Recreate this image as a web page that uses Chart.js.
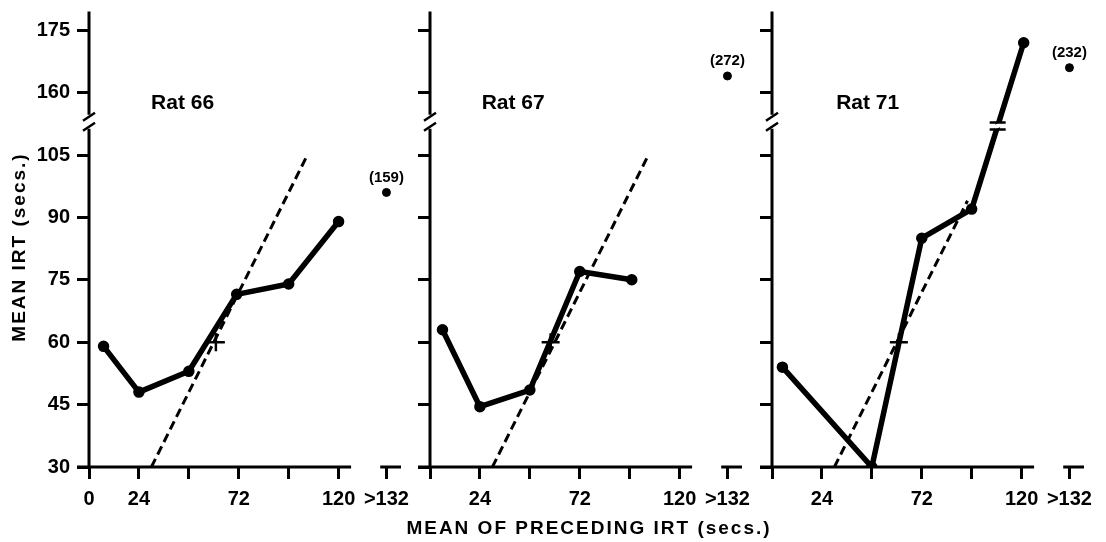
<!DOCTYPE html>
<html lang="en">
<head>
<meta charset="UTF-8">
<title>Mean IRT vs mean of preceding IRT</title>
<script src="https://cdn.jsdelivr.net/npm/chart.js@4.4.0/dist/chart.umd.min.js"></script>
<style>
  body { margin: 0; background: #fff; width: 1106px; height: 542px; position: relative; overflow: hidden; }
  canvas { position: absolute; top: 0; }
  #xtitle { position: absolute; top: 518px; left: 589px; transform: translateX(-50%);
            font: bold 19px "Liberation Sans", Arial, sans-serif; letter-spacing: 2px;
            line-height: 19px; white-space: nowrap; color: #000; }
</style>
</head>
<body>
<canvas id="c66" width="420" height="542" style="left:0px"></canvas>
<canvas id="c67" width="420" height="542" style="left:341px"></canvas>
<canvas id="c71" width="420" height="542" style="left:683px"></canvas>
<div id="xtitle">MEAN OF PRECEDING IRT (secs.)</div>
<script>
// values
const rats = ['Rat 66', 'Rat 67', 'Rat 71'];
const prevIRT66 = [7, 24, 48, 71, 96, 120];
const meanIRT66 = [59, 48, 53, 71.5, 74, 89];
const prevIRT67 = [6, 24, 48, 72, 97];
const meanIRT67 = [63, 44.5, 48.5, 77, 75];
const prevIRT71 = [5, 48, 72, 96, 121];
const meanIRT71 = [54, 30, 85, 92, 172];
// ">132" bin: where the dot sits and the value printed over it
const overX = 143;
const overPlotY = [96, 164, 166];
const overLabel = ['(159)', '(272)', '(232)'];
// the + marks
const crossX = [61, 58, 61];
const crossY = [60, 60, 60];
// dashed y = x lines
const diagFrom = [30, 30, 30];
const diagTo = [105, 105, 94];

const xTickVals = [0, 24, 48, 72, 96, 120, 143];
const xTickText = ['0', '24', '', '72', '', '120', '>132'];
const yTickVals = [30, 45, 60, 75, 90, 105, 160, 175];

// broken y axis: everything above the break is shifted down by 40
const GAP = 40;
const axisY = v => v >= 150 ? v - GAP : v;
const realY = a => a > 113 ? a + GAP : a;

Chart.defaults.font.family = '"Liberation Sans", Arial, sans-serif';
Chart.defaults.font.weight = 'bold';
Chart.defaults.color = '#000';

const decor = {
  id: 'decor',
  afterDraw(chart) {
    const { ctx, chartArea: a, scales: { x, y } } = chart;
    const p = chart.options.plugins.decor;
    ctx.save();
    ctx.strokeStyle = '#000';
    ctx.fillStyle = '#000';

    // y axis with its break
    const yb = y.getPixelForValue(113);
    ctx.lineWidth = 3;
    ctx.beginPath();
    ctx.moveTo(a.left, a.top); ctx.lineTo(a.left, yb - 7);
    ctx.moveTo(a.left, yb + 7); ctx.lineTo(a.left, a.bottom);
    ctx.stroke();
    ctx.lineWidth = 2.5;
    ctx.beginPath();
    ctx.moveTo(a.left - 6, yb - 1); ctx.lineTo(a.left + 6, yb - 9);
    ctx.moveTo(a.left - 6, yb + 9); ctx.lineTo(a.left + 6, yb + 1);
    ctx.stroke();

    // x axis and the separate >132 piece
    ctx.lineWidth = 3;
    ctx.beginPath();
    ctx.moveTo(a.left - 12, a.bottom); ctx.lineTo(x.getPixelForValue(126), a.bottom);
    ctx.moveTo(x.getPixelForValue(140), a.bottom); ctx.lineTo(x.getPixelForValue(150), a.bottom);
    ctx.stroke();

    // break marks on the line itself
    if (p.lineBreak) {
      const pts = chart.getDatasetMeta(0).data;
      const p1 = pts[pts.length - 2], p2 = pts[pts.length - 1];
      const by = y.getPixelForValue(p.lineBreak);
      const bx = p1.x + (p2.x - p1.x) * (by - p1.y) / (p2.y - p1.y);
      ctx.strokeStyle = '#fff'; ctx.lineWidth = 8;
      ctx.beginPath(); ctx.moveTo(bx - 1, by - 2); ctx.lineTo(bx + 1, by + 2); ctx.stroke();
      ctx.strokeStyle = '#000'; ctx.lineWidth = 2.5;
      ctx.beginPath();
      ctx.moveTo(bx - 8, by - 3.5); ctx.lineTo(bx + 8, by - 3.5);
      ctx.moveTo(bx - 8, by + 3.5); ctx.lineTo(bx + 8, by + 3.5);
      ctx.stroke();
    }

    // panel name
    ctx.font = 'bold 21px "Liberation Sans", Arial, sans-serif';
    ctx.textAlign = 'center'; ctx.textBaseline = 'middle';
    ctx.fillText(p.title, x.getPixelForValue(p.titleX), y.getPixelForValue(117.4));

    // value printed over the >132 dot
    const od = chart.getDatasetMeta(3).data[0];
    ctx.font = 'bold 15px "Liberation Sans", Arial, sans-serif';
    ctx.fillText(p.overText, od.x, od.y - 15);

    // y title on the first panel
    if (p.yTitle) {
      ctx.translate(20, 247);
      ctx.rotate(-Math.PI / 2);
      ctx.font = 'bold 19px "Liberation Sans", Arial, sans-serif';
      ctx.letterSpacing = '2px';
      ctx.fillText(p.yTitle, 0, 0);
    }
    ctx.restore();
  }
};

function panel(id, i, xs, ys, opts) {
  const pts = xs.map((v, k) => ({ x: v, y: axisY(ys[k]) }));
  new Chart(document.getElementById(id), {
    type: 'line',
    data: {
      datasets: [
        { data: pts, borderColor: '#000', backgroundColor: '#000', borderWidth: 5.5,
          borderJoinStyle: 'round', borderCapStyle: 'round',
          pointRadius: 3, pointHoverRadius: 3, tension: 0, order: 0 },
        { data: [{ x: diagFrom[i], y: diagFrom[i] }, { x: diagTo[i], y: diagTo[i] }],
          borderColor: '#000', borderWidth: 3, borderDash: [9, 5], pointRadius: 0, order: 2 },
        { data: [{ x: crossX[i], y: crossY[i] }], showLine: false, pointStyle: 'cross',
          pointRadius: 9, pointHoverRadius: 9, borderColor: '#000', borderWidth: 2.5, order: 1 },
        { data: [{ x: overX, y: axisY(overPlotY[i]) }], showLine: false, pointRadius: 4,
          pointHoverRadius: 4, borderColor: '#000', backgroundColor: '#000', order: 1 }
      ]
    },
    options: {
      responsive: false,
      animation: false,
      events: [],
      layout: { padding: { top: 7, right: 19, left: 0, bottom: 0 } },
      plugins: {
        legend: { display: false },
        tooltip: { enabled: false },
        decor: Object.assign({ title: rats[i], overText: overLabel[i] }, opts)
      },
      scales: {
        x: {
          type: 'linear', min: 0, max: 150,
          afterBuildTicks: s => { s.ticks = xTickVals.map(v => ({ value: v })); },
          afterFit: s => { s.height = 75; s.paddingLeft = 0; s.paddingRight = 0; },
          grid: { drawOnChartArea: false, drawTicks: true, tickLength: 12, color: '#000', lineWidth: 3 },
          border: { display: false },
          ticks: {
            autoSkip: false, maxRotation: 0, padding: 8,
            font: { size: 20, weight: 'bold' },
            callback: v => {
              const t = xTickText[xTickVals.indexOf(v)];
              return (v === 0 && !opts.yTitle) ? '' : t;
            }
          }
        },
        y: {
          type: 'linear', min: 30, max: 139.5,
          afterBuildTicks: s => { s.ticks = yTickVals.map(v => ({ value: axisY(v) })); },
          afterFit: s => { s.width = 89; s.paddingTop = 0; s.paddingBottom = 0; },
          grid: { drawOnChartArea: false, drawTicks: true, tickLength: 12, color: '#000', lineWidth: 3 },
          border: { display: false },
          ticks: {
            autoSkip: false, padding: 7,
            font: { size: 20, weight: 'bold' },
            callback: v => opts.yTitle ? String(realY(v)) : ''
          }
        }
      }
    },
    plugins: [decor]
  });
}

panel('c66', 0, prevIRT66, meanIRT66, { yTitle: 'MEAN IRT (secs.)', titleX: 45 });
panel('c67', 1, prevIRT67, meanIRT67, { titleX: 40 });
panel('c71', 2, prevIRT71, meanIRT71, { titleX: 46, lineBreak: 112 });
</script>
</body>
</html>
